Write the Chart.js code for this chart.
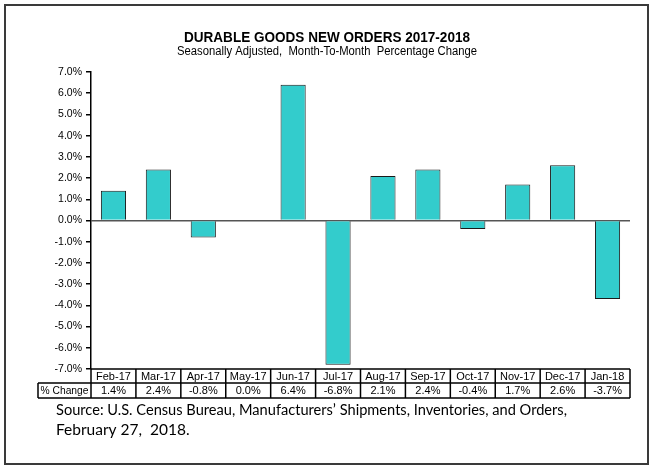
<!DOCTYPE html>
<html lang="en">
<head>
    <meta charset="UTF-8">
    <title>Durable Goods New Orders 2017-2018</title>
    <script src="https://cdn.jsdelivr.net/npm/chart.js"></script>
    <style>
        body {
            margin: 0;
            background: #fff;
        }
        .chart-container {
            width: 653px;
            height: 469px;
        }
    </style>
</head>
<body>

    <div class="chart-container">
        <canvas id="durableChart"></canvas>
    </div>

    <script>
        // Data
        const months = ['Feb-17', 'Mar-17', 'Apr-17', 'May-17', 'Jun-17', 'Jul-17',
                        'Aug-17', 'Sep-17', 'Oct-17', 'Nov-17', 'Dec-17', 'Jan-18'];
        const pctChange = [1.4, 2.4, -0.8, 0.0, 6.4, -6.8, 2.1, 2.4, -0.4, 1.7, 2.6, -3.7];

        const titleText = 'DURABLE GOODS NEW ORDERS 2017-2018';
        const subtitleText = 'Seasonally Adjusted,  Month-To-Month  Percentage Change';
        const rowLabel = '% Change';
        const sourceLines = [
            'Source: U.S. Census Bureau, Manufacturers\u2019 Shipments, Inventories, and Orders,',
            'February 27,  2018.'
        ];

        const fontFamily = '"Liberation Sans", Arial, sans-serif';

        // Frame, titles, data table and source note
        const decorPlugin = {
            id: 'decor',
            beforeDraw(chart) {
                const ctx = chart.ctx;
                ctx.save();
                ctx.fillStyle = '#fff';
                ctx.fillRect(0, 0, chart.width, chart.height);
                ctx.strokeStyle = '#3a3a3a';
                ctx.lineWidth = 2;
                ctx.strokeRect(5, 5, 643, 459);
                ctx.restore();
            },
            afterDraw(chart) {
                const ctx = chart.ctx;
                const area = chart.chartArea;
                const xs = chart.scales.x;
                ctx.save();

                // titles
                ctx.fillStyle = '#000';
                ctx.textAlign = 'center';
                ctx.textBaseline = 'alphabetic';
                ctx.font = 'bold 14px ' + fontFamily;
                ctx.fillText(titleText, 327, 42, 286);
                ctx.font = '12px ' + fontFamily;
                ctx.fillText(subtitleText, 327, 55, 300);

                // data table
                const top = area.bottom;
                const mid = top + 14;
                const bot = mid + 15;
                const labelLeft = 38;
                const colW = (area.right - area.left) / months.length;

                ctx.strokeStyle = '#000';
                ctx.lineWidth = 1.5;
                ctx.beginPath();
                ctx.moveTo(area.left, top); ctx.lineTo(area.right, top);
                ctx.moveTo(labelLeft, mid); ctx.lineTo(area.right, mid);
                ctx.moveTo(labelLeft, bot); ctx.lineTo(area.right, bot);
                ctx.moveTo(labelLeft, mid); ctx.lineTo(labelLeft, bot);
                for (let i = 0; i <= months.length; i++) {
                    const x = area.left + i * colW;
                    ctx.moveTo(x, top); ctx.lineTo(x, bot);
                }
                ctx.stroke();

                ctx.font = '11px ' + fontFamily;
                ctx.textBaseline = 'middle';
                months.forEach((m, i) => {
                    const x = xs.getPixelForValue(i);
                    ctx.fillText(m, x, (top + mid) / 2 + 0.5);
                    ctx.fillText(pctChange[i].toFixed(1) + '%', x, (mid + bot) / 2 + 0.5);
                });
                ctx.fillText(rowLabel, (labelLeft + area.left) / 2, (mid + bot) / 2 + 0.5, 48);

                // source note
                ctx.textAlign = 'left';
                ctx.textBaseline = 'alphabetic';
                ctx.font = '15.5px Lato, "Open Sans", sans-serif';
                ctx.fillText(sourceLines[0], 56, 415, 511);
                ctx.fillText(sourceLines[1], 56, 435);

                ctx.restore();
            }
        };

        new Chart(document.getElementById('durableChart'), {
            type: 'bar',
            data: {
                labels: months,
                datasets: [{
                    label: rowLabel,
                    data: pctChange,
                    backgroundColor: '#33CCCC',
                    borderColor: '#1a1a1a',
                    borderWidth: 1,
                    barPercentage: 0.56,
                    categoryPercentage: 1.0
                }]
            },
            options: {
                responsive: true,
                maintainAspectRatio: false,
                animation: false,
                layout: {
                    padding: { left: 0, right: 23, top: 72, bottom: 100 }
                },
                scales: {
                    x: {
                        display: false
                    },
                    y: {
                        min: -7,
                        max: 7,
                        afterFit: (scale) => { scale.width = 91; },
                        ticks: {
                            stepSize: 1,
                            padding: 4,
                            color: '#000',
                            font: { family: fontFamily, size: 10.5 },
                            callback: (v) => v.toFixed(1) + '%'
                        },
                        grid: {
                            drawOnChartArea: true,
                            drawTicks: true,
                            tickLength: 5,
                            tickColor: '#000',
                            lineWidth: 1.5,
                            color: (ctx) => ctx.tick && ctx.tick.value === 0 ? '#555' : 'rgba(0,0,0,0)'
                        },
                        border: {
                            display: true,
                            color: '#000',
                            width: 1.5
                        }
                    }
                },
                plugins: {
                    legend: { display: false },
                    title: { display: false },
                    tooltip: { enabled: false }
                }
            },
            plugins: [decorPlugin]
        });
    </script>

</body>
</html>
